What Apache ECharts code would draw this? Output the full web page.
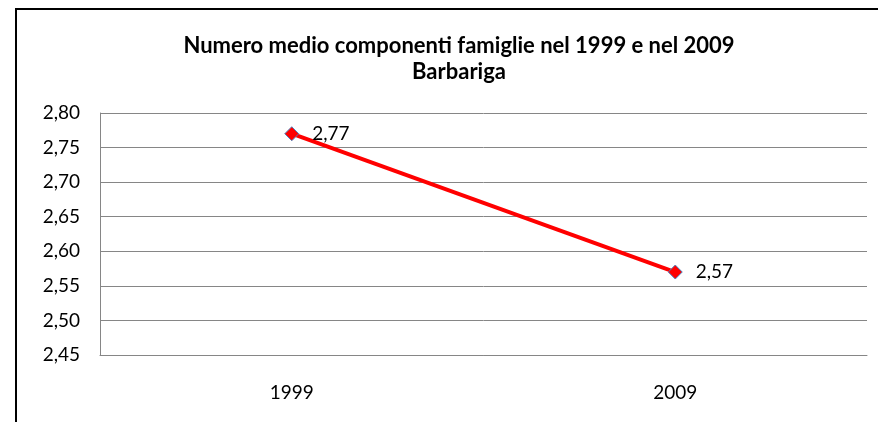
<!DOCTYPE html>
<html>
<head>
<meta charset="utf-8">
<script src="https://cdn.jsdelivr.net/npm/echarts@6/dist/echarts.min.js"></script>
<style>
  html, body { margin: 0; padding: 0; background: #fff; }
  #chart { width: 878px; height: 422px; }
</style>
</head>
<body>
<div id="chart"></div>
<script>
// dati
const anni = ['1999', '2009'];
const componenti = [2.77, 2.57];
const titolo = 'Numero medio componenti famiglie nel 1999 e nel 2009';
const sottotitolo = 'Barbariga';

const fmt = (v) => v.toFixed(2).replace('.', ',');
const font = 'Lato, "Open Sans", sans-serif';

const myChart = echarts.init(document.getElementById('chart'), null, { renderer: 'canvas' });

const opt = {
  backgroundColor: '#fff',
  animation: false,
  title: {
    text: titolo + '\n' + sottotitolo,
    left: 454,
    top: 28,
    textAlign: 'center',
    textStyle: {
      fontFamily: font,
      fontWeight: 'bold',
      fontSize: 22,
      lineHeight: 26,
      color: '#000',
    },
  },
  //cornice esterna
  graphic: [
    {
      type: 'rect',
      shape: { x: 16, y: 9, width: 900, height: 440 },
      style: { fill: 'none', stroke: '#000', lineWidth: 2 },
    },
  ],
  grid: { left: 100, right: 11, top: 113, bottom: 67 },
  xAxis: {
    type: 'category',
    data: anni,
    boundaryGap: true,
    axisLine: { lineStyle: { color: '#868686', width: 1 } },
    axisTick: { show: false },
    axisLabel: { margin: 28, fontFamily: font, fontSize: 19, color: '#000' },
  },
  yAxis: {
    type: 'value',
    min: 2.45,
    max: 2.8,
    interval: 0.05,
    axisLine: { show: true, lineStyle: { color: '#868686', width: 1 } },
    axisTick: { show: false },
    splitLine: { lineStyle: { color: '#868686', width: 1 } },
    axisLabel: { margin: 20, fontFamily: font, fontSize: 19, color: '#000', formatter: (v) => fmt(v) },
  },
  series: [
    {
      type: 'line',
      data: componenti,
      symbol: 'diamond',
      symbolSize: 14,
      lineStyle: { color: '#ff0000', width: 4 },
      itemStyle: { color: '#ff0000', borderColor: '#4f81bd', borderWidth: 1 },
      label: {
        show: true,
        position: 'right',
        distance: 13,
        fontFamily: font,
        fontSize: 19,
        color: '#000',
        formatter: (p) => fmt(p.value),
      },
    },
  ],
};

myChart.setOption(opt);
</script>
</body>
</html>
